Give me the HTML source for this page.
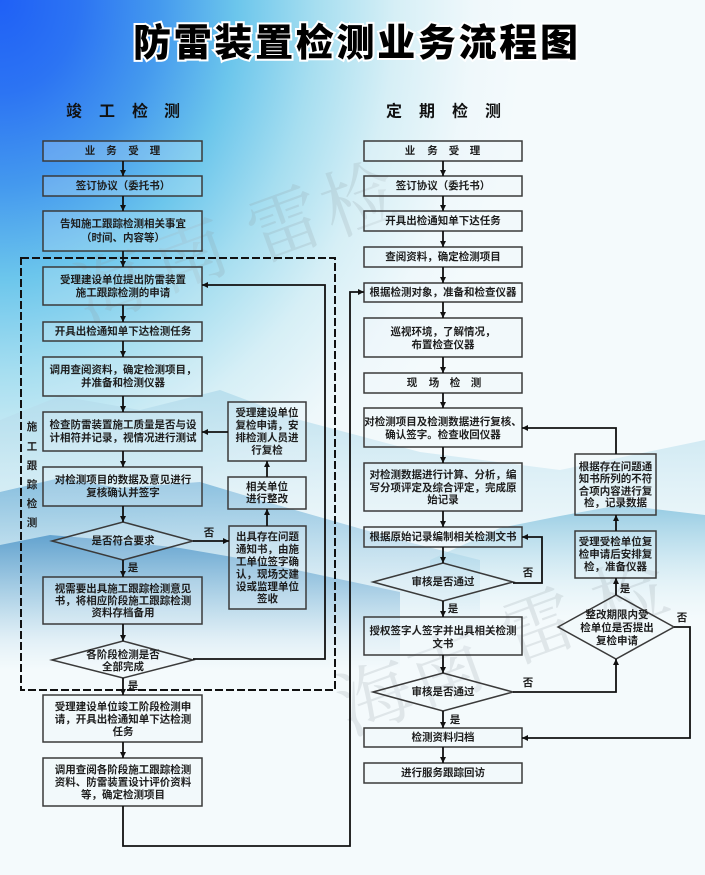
<!DOCTYPE html>
<html><head><meta charset="utf-8"><style>
html,body{margin:0;padding:0;width:705px;height:875px;overflow:hidden;background:#f4fafc}
svg{display:block}
.t{font-family:"Liberation Sans","Noto Sans CJK SC",sans-serif;font-weight:bold;font-size:10.5px;fill:#1e1e1e;text-anchor:middle;dominant-baseline:central}
.b{fill:rgba(235,248,252,0.22);stroke:#3a3a3a;stroke-width:1.5}
.c{fill:none;stroke:#111;stroke-width:1.8}
.wm{font-family:"Noto Serif CJK SC","Noto Sans CJK SC",serif;font-size:74px;fill:#8e9aa0;opacity:0.2;text-anchor:middle;dominant-baseline:central}
</style></head><body>
<svg width="705" height="875" viewBox="0 0 705 875" xmlns="http://www.w3.org/2000/svg">
<defs>
<radialGradient id="sky" gradientUnits="userSpaceOnUse" cx="0" cy="0" r="620" gradientTransform="scale(0.85,1)">
<stop offset="0" stop-color="#1f60f6"/>
<stop offset="0.15" stop-color="#2c74f3"/>
<stop offset="0.3" stop-color="#4499ee"/>
<stop offset="0.45" stop-color="#6cc6ec"/>
<stop offset="0.6" stop-color="#a6def0"/>
<stop offset="0.75" stop-color="#d6eff6"/>
<stop offset="0.9" stop-color="#eff8fb"/>
<stop offset="1" stop-color="#f4fafc"/>
</radialGradient>
<linearGradient id="m1" x1="0" y1="0" x2="0" y2="1"><stop offset="0" stop-color="#b4dcec" stop-opacity="0.85"/><stop offset="1" stop-color="#d8eef5" stop-opacity="0"/></linearGradient>
<linearGradient id="m2" x1="0" y1="0" x2="0" y2="1"><stop offset="0" stop-color="#7fb9dc" stop-opacity="0.9"/><stop offset="1" stop-color="#b8dcea" stop-opacity="0"/></linearGradient>
<linearGradient id="m3" x1="0" y1="0" x2="0" y2="1"><stop offset="0" stop-color="#5b9dcc" stop-opacity="0.9"/><stop offset="1" stop-color="#a8d2e6" stop-opacity="0"/></linearGradient>
<linearGradient id="m4" x1="0" y1="0" x2="0" y2="1"><stop offset="0" stop-color="#8cc6e0" stop-opacity="0.9"/><stop offset="1" stop-color="#d0ebf3" stop-opacity="0"/></linearGradient>
<marker id="a" viewBox="0 0 10 10" refX="10" refY="5" markerWidth="6" markerHeight="6" orient="auto" markerUnits="userSpaceOnUse"><path d="M0,0 L10,5 L0,10 z" fill="#111"/></marker>
</defs>

<!-- background -->
<rect width="705" height="875" fill="#f4fafc"/>
<rect width="705" height="875" fill="url(#sky)"/>
<polygon fill="url(#m1)" points="0,420 60,396 140,410 220,390 300,420 420,452 560,470 705,440 705,580 0,580"/>
<polygon fill="url(#m2)" points="0,492 60,478 120,488 200,482 260,500 330,520 400,540 480,560 480,640 0,640"/>
<polygon fill="url(#m3)" points="0,545 50,535 110,540 180,548 250,560 320,575 400,592 400,670 0,670"/>
<polygon fill="url(#m4)" points="430,560 500,528 560,516 620,505 705,515 705,620 430,620"/>

<!-- watermarks -->
<text class="wm" transform="translate(110,282) rotate(-20)">海</text>
<text class="wm" transform="translate(188,250) rotate(-20)">南</text>
<text class="wm" transform="translate(283,220) rotate(-20)">雷</text>
<text class="wm" transform="translate(357,195) rotate(-20)">检</text>
<text class="wm" transform="translate(373,693) rotate(-20)">海</text>
<text class="wm" transform="translate(445,665) rotate(-20)">南</text>
<text class="wm" transform="translate(537,622) rotate(-20)">雷</text>
<text class="wm" transform="translate(628,590) rotate(-20)">检</text>

<!-- title -->
<text x="133" y="44" textLength="445" lengthAdjust="spacing" style="font-family:'Liberation Sans','Noto Sans CJK SC',sans-serif;font-weight:900;font-size:38px;fill:#000;stroke:#fff;stroke-width:4;paint-order:stroke;dominant-baseline:central">防雷装置检测业务流程图</text>

<!-- section headings -->
<g style="font-family:'Liberation Sans','Noto Sans CJK SC',sans-serif;font-weight:bold;font-size:16px;fill:#111;text-anchor:middle;dominant-baseline:central">
<text x="74" y="112">竣</text><text x="107" y="112">工</text><text x="140" y="112">检</text><text x="172" y="112">测</text>
<text x="394" y="112">定</text><text x="427" y="112">期</text><text x="460" y="112">检</text><text x="493" y="112">测</text>
</g>

<!-- dashed region -->
<rect x="21" y="258" width="314" height="432" fill="none" stroke="#111" stroke-width="2" stroke-dasharray="8,3"/>

<!-- left boxes -->
<rect class="b" x="43" y="141" width="159" height="20"/>
<rect class="b" x="43" y="176" width="159" height="20"/>
<rect class="b" x="43" y="211" width="159" height="40"/>
<rect class="b" x="43" y="267" width="159" height="38"/>
<rect class="b" x="43" y="322" width="159" height="19"/>
<rect class="b" x="43" y="357" width="159" height="39"/>
<rect class="b" x="43" y="412" width="159" height="39"/>
<rect class="b" x="43" y="467" width="159" height="39"/>
<rect class="b" x="43" y="577" width="159" height="47"/>
<rect class="b" x="43" y="695" width="159" height="47"/>
<rect class="b" x="43" y="758" width="159" height="48"/>
<rect class="b" x="228" y="402" width="78" height="59"/>
<rect class="b" x="228" y="477" width="78" height="32"/>
<rect class="b" x="229" y="526" width="77" height="83"/>
<polygon class="b" points="52,541 123,522 193,541 123,560"/>
<polygon class="b" points="52,660 123,641 193,660 123,678"/>

<!-- right boxes -->
<rect class="b" x="364" y="141" width="158" height="20"/>
<rect class="b" x="364" y="176" width="158" height="20"/>
<rect class="b" x="364" y="211" width="158" height="20"/>
<rect class="b" x="364" y="247" width="158" height="20"/>
<rect class="b" x="364" y="283" width="158" height="19"/>
<rect class="b" x="364" y="318" width="158" height="39"/>
<rect class="b" x="364" y="373" width="158" height="20"/>
<rect class="b" x="364" y="408" width="158" height="39"/>
<rect class="b" x="364" y="463" width="158" height="48"/>
<rect class="b" x="364" y="527" width="158" height="20"/>
<polygon class="b" points="373,582 443,563 513,582 443,601"/>
<rect class="b" x="364" y="617" width="158" height="38"/>
<polygon class="b" points="373,692 443,673 513,692 443,711"/>
<rect class="b" x="364" y="728" width="158" height="19"/>
<rect class="b" x="364" y="763" width="158" height="20"/>
<rect class="b" x="575" y="454" width="81" height="61"/>
<rect class="b" x="575" y="531" width="81" height="47"/>
<polygon class="b" points="558,627 616,595 674,627 616,659"/>

<!-- connectors left -->
<g>
<path class="c" marker-end="url(#a)" d="M123,161V176"/>
<path class="c" marker-end="url(#a)" d="M123,196V211"/>
<path class="c" marker-end="url(#a)" d="M123,251V267"/>
<path class="c" marker-end="url(#a)" d="M123,305V322"/>
<path class="c" marker-end="url(#a)" d="M123,341V357"/>
<path class="c" marker-end="url(#a)" d="M123,396V412"/>
<path class="c" marker-end="url(#a)" d="M123,451V467"/>
<path class="c" marker-end="url(#a)" d="M123,506V522"/>
<path class="c" marker-end="url(#a)" d="M123,560V577"/>
<path class="c" marker-end="url(#a)" d="M123,624V641"/>
<path class="c" marker-end="url(#a)" d="M123,678V695"/>
<path class="c" marker-end="url(#a)" d="M123,742V758"/>
<path class="c" marker-end="url(#a)" d="M123,806V846H350V292H364"/>
<path class="c" marker-end="url(#a)" d="M193,541H229"/>
<path class="c" marker-end="url(#a)" d="M267,526V509"/>
<path class="c" marker-end="url(#a)" d="M267,477V461"/>
<path class="c" marker-end="url(#a)" d="M228,432H202"/>
<path class="c" marker-end="url(#a)" d="M193,659H325V285H202"/>
</g>

<!-- connectors right -->
<g>
<path class="c" marker-end="url(#a)" d="M443,161V176"/>
<path class="c" marker-end="url(#a)" d="M443,196V211"/>
<path class="c" marker-end="url(#a)" d="M443,231V247"/>
<path class="c" marker-end="url(#a)" d="M443,267V283"/>
<path class="c" marker-end="url(#a)" d="M443,302V318"/>
<path class="c" marker-end="url(#a)" d="M443,357V373"/>
<path class="c" marker-end="url(#a)" d="M443,393V408"/>
<path class="c" marker-end="url(#a)" d="M443,447V463"/>
<path class="c" marker-end="url(#a)" d="M443,511V527"/>
<path class="c" marker-end="url(#a)" d="M443,547V563"/>
<path class="c" marker-end="url(#a)" d="M443,601V617"/>
<path class="c" marker-end="url(#a)" d="M443,655V673"/>
<path class="c" marker-end="url(#a)" d="M443,711V728"/>
<path class="c" marker-end="url(#a)" d="M443,747V763"/>
<path class="c" marker-end="url(#a)" d="M513,583H542V537H522"/>
<path class="c" marker-end="url(#a)" d="M513,692H616V659"/>
<path class="c" marker-end="url(#a)" d="M616,595V578"/>
<path class="c" marker-end="url(#a)" d="M616,531V515"/>
<path class="c" marker-end="url(#a)" d="M616,454V428H522"/>
<path class="c" marker-end="url(#a)" d="M674,627H690V738H522"/>
</g>

<!-- left texts -->
<text class="t" x="90" y="151">业</text><text class="t" x="111.5" y="151">务</text><text class="t" x="133.5" y="151">受</text><text class="t" x="155" y="151">理</text>
<text class="t" x="123" y="186">签订协议（委托书）</text>
<text class="t" x="123" y="224">告知施工跟踪检测相关事宜</text>
<text class="t" x="123" y="238">（时间、内容等）</text>
<text class="t" x="123" y="280">受理建设单位提出防雷装置</text>
<text class="t" x="123" y="293">施工跟踪检测的申请</text>
<text class="t" x="123" y="331.5">开具出检通知单下达检测任务</text>
<text class="t" x="123" y="370">调用查阅资料，确定检测项目，</text>
<text class="t" x="123" y="383">并准备和检测仪器</text>
<text class="t" x="123" y="425">检查防雷装置施工质量是否与设</text>
<text class="t" x="123" y="438">计相符并记录，视情况进行测试</text>
<text class="t" x="123" y="480">对检测项目的数据及意见进行</text>
<text class="t" x="123" y="493">复核确认并签字</text>
<text class="t" x="123" y="541">是否符合要求</text>
<text class="t" x="123" y="589">视需要出具施工跟踪检测意见</text>
<text class="t" x="123" y="601">书，将相应阶段施工跟踪检测</text>
<text class="t" x="123" y="613">资料存档备用</text>
<text class="t" x="123" y="655">各阶段检测是否</text>
<text class="t" x="123" y="667">全部完成</text>
<text class="t" x="123" y="707">受理建设单位竣工阶段检测申</text>
<text class="t" x="123" y="719.5">请，开具出检通知单下达检测</text>
<text class="t" x="123" y="732">任务</text>
<text class="t" x="123" y="770">调用查阅各阶段施工跟踪检测</text>
<text class="t" x="123" y="782.5">资料、防雷装置设计评价资料</text>
<text class="t" x="123" y="795">等，确定检测项目</text>
<text class="t" x="267" y="413">受理建设单位</text>
<text class="t" x="267" y="425.5">复检申请，安</text>
<text class="t" x="267" y="438">排检测人员进</text>
<text class="t" x="267" y="450.5">行复检</text>
<text class="t" x="267" y="487">相关单位</text>
<text class="t" x="267" y="499">进行整改</text>
<text class="t" x="267.5" y="537">出具存在问题</text>
<text class="t" x="267.5" y="549.5">通知书，由施</text>
<text class="t" x="267.5" y="562">工单位签字确</text>
<text class="t" x="267.5" y="574.5">认，现场交建</text>
<text class="t" x="267.5" y="587">设或监理单位</text>
<text class="t" x="267.5" y="599">签收</text>
<text class="t" x="32" y="427">施</text>
<text class="t" x="32" y="447">工</text>
<text class="t" x="32" y="466">跟</text>
<text class="t" x="32" y="485">踪</text>
<text class="t" x="32" y="504">检</text>
<text class="t" x="32" y="523">测</text>
<text class="t" x="209" y="533">否</text>
<text class="t" x="133" y="568">是</text>
<text class="t" x="133" y="686">是</text>

<!-- right texts -->
<text class="t" x="410" y="151">业</text><text class="t" x="432.5" y="151">务</text><text class="t" x="454" y="151">受</text><text class="t" x="475" y="151">理</text>
<text class="t" x="443" y="186">签订协议（委托书）</text>
<text class="t" x="443" y="221">开具出检通知单下达任务</text>
<text class="t" x="443" y="257">查阅资料，确定检测项目</text>
<text class="t" x="443" y="292.5">根据检测对象，准备和检查仪器</text>
<text class="t" x="443" y="332">巡视环境，了解情况，</text>
<text class="t" x="443" y="345">布置检查仪器</text>
<text class="t" x="412" y="383">现</text><text class="t" x="434" y="383">场</text><text class="t" x="455" y="383">检</text><text class="t" x="476" y="383">测</text>
<text class="t" x="443" y="422">对检测项目及检测数据进行复核、</text>
<text class="t" x="443" y="435">确认签字。检查收回仪器</text>
<text class="t" x="443" y="475">对检测数据进行计算、分析，编</text>
<text class="t" x="443" y="488">写分项评定及综合评定，完成原</text>
<text class="t" x="443" y="500">始记录</text>
<text class="t" x="443" y="537">根据原始记录编制相关检测文书</text>
<text class="t" x="443" y="582">审核是否通过</text>
<text class="t" x="443" y="631">授权签字人签字并出具相关检测</text>
<text class="t" x="443" y="644">文书</text>
<text class="t" x="443" y="692">审核是否通过</text>
<text class="t" x="443" y="737.5">检测资料归档</text>
<text class="t" x="443" y="773">进行服务跟踪回访</text>
<text class="t" x="615.5" y="467">根据存在问题通</text>
<text class="t" x="615.5" y="479">知书所列的不符</text>
<text class="t" x="615.5" y="491.5">合项内容进行复</text>
<text class="t" x="615.5" y="503">检，记录数据</text>
<text class="t" x="615.5" y="542">受理受检单位复</text>
<text class="t" x="615.5" y="554.5">检申请后安排复</text>
<text class="t" x="615.5" y="567">检，准备仪器</text>
<text class="t" x="617" y="615">整改期限内受</text>
<text class="t" x="617" y="628">检单位是否提出</text>
<text class="t" x="617" y="641">复检申请</text>
<text class="t" x="528" y="573">否</text>
<text class="t" x="453" y="609">是</text>
<text class="t" x="528" y="683">否</text>
<text class="t" x="455" y="720">是</text>
<text class="t" x="625" y="589">是</text>
<text class="t" x="682" y="618">否</text>
</svg>
</body></html>
